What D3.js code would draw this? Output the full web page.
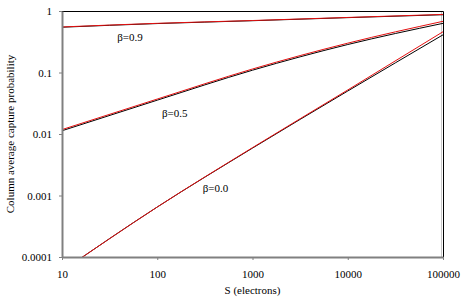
<!DOCTYPE html>
<html>
<head>
<meta charset="utf-8">
<script src="https://cdn.jsdelivr.net/npm/d3@7"></script>
<style>
  body { margin: 0; background: #fff; }
  svg { display: block; font-family: 'Liberation Serif', 'Times New Roman', serif; }
</style>
</head>
<body>
<div id="root"></div>
<script>
// electrons per pixel (x) and capture probability curves, red = one model, black = the other
const S = [10, 100, 1000, 10000, 100000]
const xTicks = [10, 100, 1000, 10000, 100000]
const yTicks = [1, 0.1, 0.01, 0.001, 0.0001]
const yTickLabels = ['1', '0.1', '0.01', '0.001', '0.0001']

const beta09Red = [0.55, 0.63, 0.70, 0.785, 0.88]
const beta09Black = [0.545, 0.625, 0.695, 0.78, 0.87]
const beta05Red = [0.0118, 0.037, 0.114, 0.30, 0.68]
const beta05Black = [0.0113, 0.0355, 0.109, 0.285, 0.63]
const beta00Red = [0.000059, 0.00065, 0.006, 0.052, 0.46]
const beta00Black = [0.000059, 0.00065, 0.0059, 0.05, 0.41]

const labels = [
  { text: 'β=0.9', S: 38, p: 0.33 },
  { text: 'β=0.5', S: 112, p: 0.0188 },
  { text: 'β=0.0', S: 300, p: 0.00113 }
]

const w = 463
const h = 300
const padding = { left: 62, right: 20, top: 11, bottom: 43 }

const svg = d3.select('#root')
  .append('svg')
  .attr('width', w)
  .attr('height', h)

const xScale = d3.scaleLog()
  .domain([10, 100000])
  .range([padding.left, w - padding.right])

const yScale = d3.scaleLog()
  .domain([0.0001, 1])
  .range([h - padding.bottom, padding.top])

svg.append('defs').append('clipPath')
  .attr('id', 'plot-clip')
  .append('rect')
    .attr('x', padding.left)
    .attr('y', padding.top)
    .attr('width', w - padding.left - padding.right)
    .attr('height', h - padding.top - padding.bottom)

// plot frame (top + right black, with a grey inner edge on the right)
svg.append('path')
  .attr('d', 'M' + padding.left + ',' + (padding.top + 0.5) + 'H' + (w - padding.right + 0.5) + 'V' + (h - padding.bottom))
  .attr('fill', 'none')
  .attr('stroke', '#000')
  .attr('stroke-width', 1)

svg.append('line')
  .attr('x1', w - padding.right - 1.5)
  .attr('x2', w - padding.right - 1.5)
  .attr('y1', padding.top + 1)
  .attr('y2', h - padding.bottom)
  .attr('stroke', '#c8c8c8')
  .attr('stroke-width', 1)

const line = d3.line()
  .x(d => xScale(d[0]))
  .y(d => yScale(d[1]))
  .curve(d3.curveMonotoneX)

const series = [
  { values: beta09Black, color: '#000' },
  { values: beta05Black, color: '#000' },
  { values: beta00Black, color: '#000' },
  { values: beta09Red, color: '#e41010' },
  { values: beta05Red, color: '#e41010' },
  { values: beta00Red, color: '#e41010' }
]

const curves = svg.append('g')
  .attr('clip-path', 'url(#plot-clip)')

curves.selectAll('path')
  .data(series)
  .enter()
  .append('path')
    .attr('d', d => line(d.values.map((v, i) => [S[i], v])))
    .attr('fill', 'none')
    .attr('stroke', d => d.color)
    .attr('stroke-width', 1)

const xAxis = d3.axisBottom(xScale)
  .tickValues(xTicks)
  .tickFormat(d3.format('d'))
  .tickSizeInner(3)
  .tickSizeOuter(0)
  .tickPadding(10)

const yAxis = d3.axisLeft(yScale)
  .tickValues(yTicks)
  .tickFormat((d, i) => yTickLabels[i])
  .tickSizeInner(3)
  .tickSizeOuter(0)
  .tickPadding(7)

const gx = svg.append('g')
  .attr('transform', 'translate(0, ' + (h - padding.bottom) + ')')
  .call(xAxis)

const gy = svg.append('g')
  .attr('transform', 'translate(' + padding.left + ', 0)')
  .call(yAxis)

for (const g of [gx, gy]) {
  g.select('.domain').attr('stroke', '#808080').attr('stroke-width', 2)
  g.selectAll('.tick line').attr('stroke', '#808080')
  g.selectAll('.tick text')
    .attr('font-family', "'Liberation Serif', serif")
    .attr('font-size', 11)
    .attr('fill', '#000')
}

svg.selectAll('.beta-label')
  .data(labels)
  .enter()
  .append('text')
    .attr('class', 'beta-label')
    .attr('x', d => xScale(d.S))
    .attr('y', d => yScale(d.p))
    .attr('font-size', 11)
    .text(d => d.text)

svg.append('text')
  .attr('x', (padding.left + w - padding.right) / 2)
  .attr('y', 294)
  .attr('text-anchor', 'middle')
  .attr('font-size', 11)
  .text('S (electrons)')

svg.append('text')
  .attr('transform', 'translate(14, ' + ((padding.top + h - padding.bottom) / 2) + ') rotate(-90)')
  .attr('text-anchor', 'middle')
  .attr('font-size', 11)
  .text('Column average capture probability')
</script>
</body>
</html>
